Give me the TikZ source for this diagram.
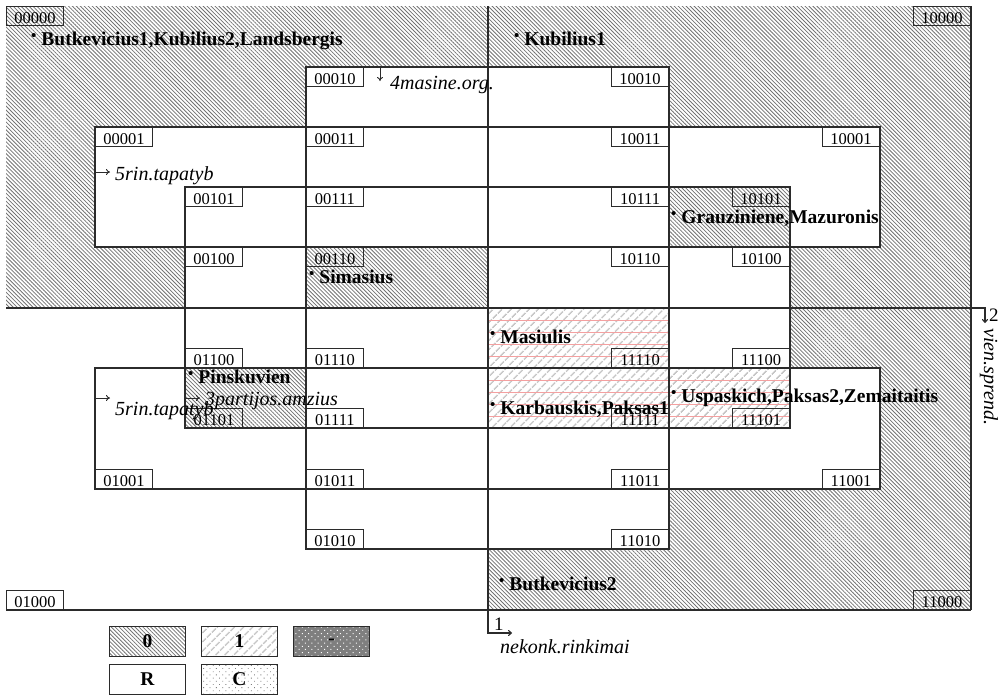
\documentclass[tikz,border=0pt]{standalone}
\usepackage{fontspec}
\setmainfont{Liberation Serif}
\usetikzlibrary{arrows.meta,positioning,patterns.meta}
\definecolor{kmLine}{HTML}{2B2B2B}
\definecolor{kmHatch}{HTML}{737373}
\definecolor{kmLight}{HTML}{C6C6C6}
\definecolor{kmRed}{HTML}{F4A0A0}
\definecolor{kmDark}{HTML}{7F7F7F}
\newcommand{\partyDot}{\raisebox{4.5pt}{\fontsize{15}{15}\selectfont\textbullet}\hspace{5pt}}
\tikzset{
  zeroFill/.style={
    pattern={Lines[angle=-45,distance=2.8pt,line width=0.8pt]},
    pattern color=kmHatch
  },
  oneFill/.style={
    pattern={Lines[angle=45,distance=6.5pt,line width=1.6pt]},
    pattern color=kmLight
  },
  regionBox/.style={
    draw=kmLine,
    line width=1.1pt
  },
  cellCode/.style={
    draw=kmLine,
    line width=0.9pt,
    font=\fontsize{16.5}{16.5}\selectfont,
    minimum width=57pt,
    text height=15pt,
    text depth=0pt,
    inner xsep=0pt,
    inner ysep=2pt
  },
  partyName/.style={
    anchor=base west,
    inner sep=0pt,
    font=\bfseries\fontsize{19.5}{19.5}\selectfont
  },
  axisLabel/.style={
    anchor=base west,
    inner sep=0pt,
    font=\itshape\fontsize{20}{20}\selectfont
  },
  axisNumber/.style={
    anchor=base west,
    inner sep=0pt,
    font=\fontsize{19}{19}\selectfont
  },
  axisArrow/.style={
    -{To[length=4pt,width=6pt]},
    draw=kmLine,
    line width=0.9pt
  },
  legendBox/.style={
    draw=kmLine,
    line width=1pt,
    minimum width=76pt,
    minimum height=30pt,
    inner sep=0pt,
    font=\bfseries\fontsize{19.5}{19.5}\selectfont
  }
}

\begin{document}
\begin{tikzpicture}[x=1pt,y=-1pt]
  \useasboundingbox (0,0) rectangle (1002,694);
  \fill[white] (0,0) rectangle (1002,694);

  % quadrants with value 0
  \fill[zeroFill] (6,6) rectangle (971,308);
  \fill[zeroFill] (488,308) rectangle (971,610);

  % areas of the four inner variables
  \fill[white] (306,67) rectangle (669,549);
  \fill[white] (95,127) rectangle (880,247);
  \fill[white] (95,368) rectangle (880,489);
  \fill[white] (185,187) rectangle (790,428);

  \fill[zeroFill] (306,247) rectangle (488,308);
  \fill[zeroFill] (669,187) rectangle (790,247);
  \fill[zeroFill] (185,368) rectangle (306,428);

  \fill[oneFill] (488,308) rectangle (669,428);
  \fill[oneFill] (669,368) rectangle (790,428);
  \foreach \y in {320,332,344,356} {
    \draw[kmRed, line width=0.9pt] (488,\y) -- (669,\y);
  }
  \foreach \y in {380,392,404,416} {
    \draw[kmRed, line width=0.9pt] (488,\y) -- (790,\y);
  }

  \draw[regionBox] (306,67) rectangle (669,549);
  \draw[regionBox] (95,127) rectangle (880,247);
  \draw[regionBox] (95,368) rectangle (880,489);
  \draw[regionBox] (185,187) rectangle (790,428);
  \draw[regionBox] (6,610) -- (971,610);
  \draw[regionBox] (971,6) -- (971,610);

  % axes
  \coordinate (axisOneTop) at (488,6);
  \coordinate (axisOneBend) at (488,633);
  \coordinate (axisOneEnd) at (512,633);
  \coordinate (axisTwoLeft) at (6,308);
  \coordinate (axisTwoBend) at (985,308);
  \coordinate (axisTwoEnd) at (985,323);
  \draw[axisArrow, line width=1.1pt] (axisOneTop) -- (axisOneBend) -- (axisOneEnd);
  \draw[axisArrow, line width=1.1pt] (axisTwoLeft) -- (axisTwoBend) -- (axisTwoEnd);

  % cell codes
  \foreach \bits/\x/\y in {00000/6/6,00010/306/67,00001/95/127,00011/306/127,
      00101/185/187,00111/306/187,00100/185/247,00110/306/247} {
    \node[cellCode, anchor=north west] (c\bits) at (\x,\y) {\bits};
  }
  \foreach \bits/\x/\y in {10000/971/6,10010/669/67,10011/669/127,10001/880/127,
      10111/669/187,10101/790/187,10110/669/247,10100/790/247} {
    \node[cellCode, anchor=north east] (c\bits) at (\x,\y) {\bits};
  }
  \foreach \bits/\x/\y in {01100/185/368,01110/306/368,01101/185/428,01111/306/428,
      01001/95/489,01011/306/489,01010/306/549,01000/6/610} {
    \node[cellCode, anchor=south west] (c\bits) at (\x,\y) {\bits};
  }
  \foreach \bits/\x/\y in {11110/669/368,11100/790/368,11111/669/428,11101/790/428,
      11011/669/489,11001/880/489,11010/669/549,11000/971/610} {
    \node[cellCode, anchor=south east] (c\bits) at (\x,\y) {\bits};
  }

  % politicians
  \node[partyName] (pButkA) at (31,45) {\partyDot Butkevicius1,Kubilius2,Landsbergis};
  \node[partyName] (pKubA) at (514,45) {\partyDot Kubilius1};
  \node[partyName] (pSim) at (309,283) {\partyDot Simasius};
  \node[partyName] (pGrau) at (671,223) {\partyDot Grauziniene,Mazuronis};
  \node[partyName] (pMas) at (490,343) {\partyDot Masiulis};
  \node[partyName] (pKarb) at (490,414) {\partyDot Karbauskis,Paksas1};
  \node[partyName] (pUsp) at (671,402) {\partyDot Uspaskich,Paksas2,Zemaitaitis};
  \node[partyName] (pPins) at (188,383) {\partyDot Pinskuvien};
  \node[partyName] (pButkB) at (499,590) {\partyDot Butkevicius2};

  % variable labels
  \coordinate (mArrTop) at (380,67);
  \coordinate (mArrEnd) at (380,81);
  \draw[axisArrow] (mArrTop) -- (mArrEnd);
  \node[axisLabel] (lblMasine) at (390,89) {4masine.org.};

  \coordinate (rArrA) at (95,172);
  \coordinate (rArrAEnd) at (110,172);
  \draw[axisArrow] (rArrA) -- (rArrAEnd);
  \node[axisLabel] (lblRinA) at (115,180) {5rin.tapatyb};

  \coordinate (rArrB) at (95,398);
  \coordinate (rArrBEnd) at (110,398);
  \draw[axisArrow] (rArrB) -- (rArrBEnd);
  \node[axisLabel] (lblRinB) at (115,415) {5rin.tapatyb};

  \coordinate (pArr) at (185,398);
  \coordinate (pArrEnd) at (200,398);
  \draw[axisArrow] (pArr) -- (pArrEnd);
  \node[axisLabel] (lblPart) at (205,405) {3partijos.amzius};

  \node[axisNumber] (numOne) at (494,630) {1};
  \node[axisLabel] (lblNek) at (500,653) {nekonk.rinkimai};
  \node[axisNumber] (numTwo) at (989,321) {2};
  \node[axisLabel, rotate=-90] (lblVien) at (984,328) {vien.sprend.};

  % legend
  \node[legendBox, zeroFill, anchor=north west] (legZero) at (109,626) {0};
  \node[legendBox, oneFill, right=15pt of legZero] (legOne) {1};
  \node[legendBox, preaction={fill=kmDark},
    pattern={Dots[radius=0.7pt,distance=4.5pt,angle=45]}, pattern color=white,
    right=15pt of legOne] (legDash) {-};
  \node[legendBox, below=7pt of legZero] (legR) {R};
  \node[legendBox, pattern={Dots[radius=0.6pt,distance=4.5pt,angle=45]},
    pattern color=kmDark, right=15pt of legR] (legC) {C};
\end{tikzpicture}
\end{document}
